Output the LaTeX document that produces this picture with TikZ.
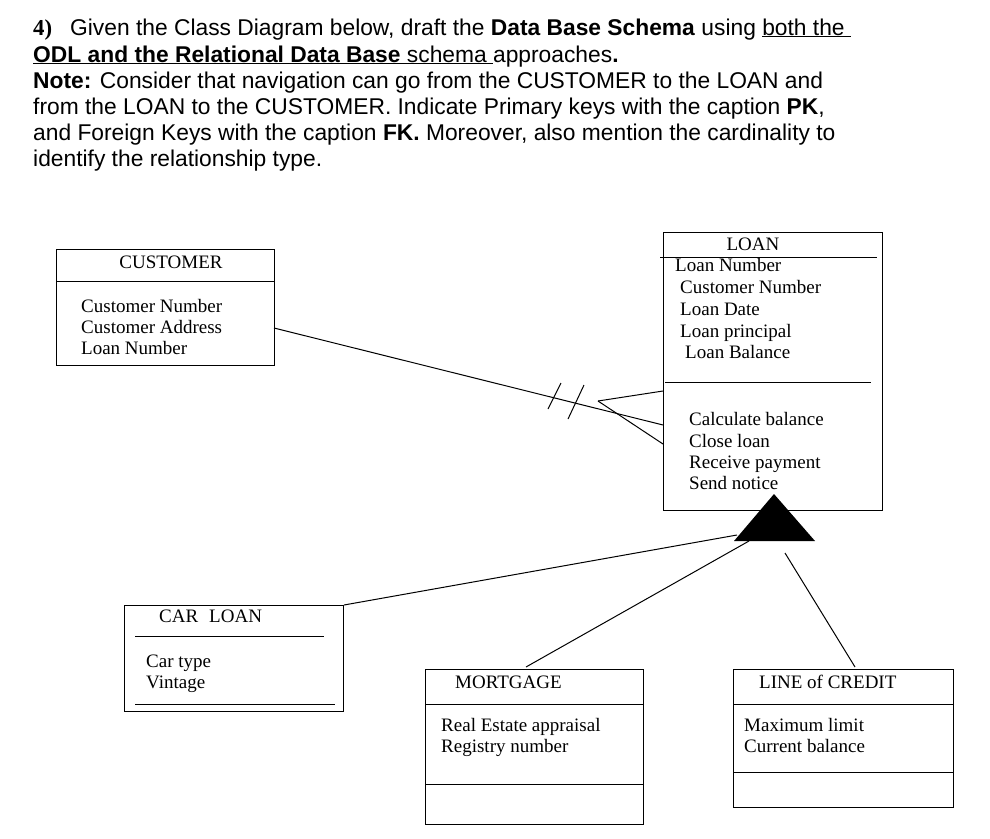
\documentclass[tikz,border=0pt]{standalone}
\usepackage{fontspec}
\setmainfont{Liberation Sans}
\newfontfamily\tnr{Liberation Serif}
\begin{document}
\begin{tikzpicture}[x=1pt,y=-1pt,
  box/.style={draw, line width=1pt, inner sep=0pt, anchor=north west},
  txt/.style={anchor=base west, inner sep=0pt, font=\tnr\fontsize{19}{22}\selectfont},
  ttl/.style={anchor=base, inner sep=0pt, font=\tnr\fontsize{19}{22}\selectfont},
  hd/.style={anchor=base west, inner sep=0pt, font=\fontsize{22.8}{26}\selectfont},
  ln/.style={line width=1pt}]
\useasboundingbox (0,0) rectangle (990,838);
% header
\node[hd] (h1) at (33,35) {{\tnr\bfseries 4)}\hspace{18pt}Given the Class Diagram below, draft the \textbf{Data Base Schema} using \underline{both the\ }};
\node[hd] (h2) at (33,62) {\underline{\textbf{ODL and the Relational Data Base} schema\ }approaches\textbf{.}};
\node[hd] (h3) at (33,88) {\textbf{Note:} Consider that navigation can go from the CUSTOMER to the LOAN and};
\node[hd] (h4) at (33,114) {from the LOAN to the CUSTOMER. Indicate Primary keys with the caption \textbf{PK},};
\node[hd] (h5) at (33,140) {and Foreign Keys with the caption \textbf{FK.} Moreover, also mention the cardinality to};
\node[hd] (h6) at (33,166) {identify the relationship type.};
% CUSTOMER
\node[box, minimum width=218pt, minimum height=116pt] (cust) at (56,249) {};
\draw[ln] (56,281) -- (274,281);
\node[ttl] (custT) at (171,268) {CUSTOMER};
\node[txt] (c1) at (81,312) {Customer Number};
\node[txt] (c2) at (81,333) {Customer Address};
\node[txt] (c3) at (81,354) {Loan Number};
% LOAN
\node[box, minimum width=219pt, minimum height=278pt] (loan) at (663,232) {};
\draw[ln] (660,257) -- (877,257);
\draw[ln] (665,382) -- (871,382);
\node[ttl] (loanT) at (753,250) {LOAN};
\node[txt] (l1) at (675,271) {Loan Number};
\node[txt] (l2) at (680,293) {Customer Number};
\node[txt] (l3) at (680,315) {Loan Date};
\node[txt] (l4) at (680,337) {Loan principal};
\node[txt] (l5) at (685,358) {Loan Balance};
\node[txt] (m1) at (689,425) {Calculate balance};
\node[txt] (m2) at (689,447) {Close loan};
\node[txt] (m3) at (689,468) {Receive payment};
\node[txt] (m4) at (689,489) {Send notice};
% CAR LOAN
\node[box, minimum width=219pt, minimum height=106pt] (car) at (124,605) {};
\draw[ln] (135,636) -- (324,636);
\draw[ln] (135,704) -- (335,704);
\node[txt] (carT) at (159,622) {CAR\hspace{11pt}LOAN};
\node[txt] (car1) at (146,667) {Car type};
\node[txt] (car2) at (146,688) {Vintage};
% MORTGAGE
\node[box, minimum width=218pt, minimum height=155pt] (mort) at (425,669) {};
\draw[ln] (425,704) -- (643,704);
\draw[ln] (425,784) -- (643,784);
\node[txt] (mortT) at (455,688) {MORTGAGE};
\node[txt] (mo1) at (441,731) {Real Estate appraisal};
\node[txt] (mo2) at (441,752) {Registry number};
% LINE of CREDIT
\node[box, minimum width=220pt, minimum height=138pt] (loc) at (733,669) {};
\draw[ln] (733,704) -- (953,704);
\draw[ln] (733,772) -- (953,772);
\node[txt] (locT) at (759,688) {LINE of CREDIT};
\node[txt] (lc1) at (744,731) {Maximum limit};
\node[txt] (lc2) at (744,752) {Current balance};
% association customer - loan
\coordinate (a1) at (274,328);
\coordinate (a2) at (663,425);
\coordinate (cf) at (598,401);
\coordinate (cfu) at (663,391);
\coordinate (cfl) at (663,444);
\draw[ln] (a1) -- (a2);
\draw[ln] (cf) -- (cfu);
\draw[ln] (cf) -- (cfl);
\draw[ln] (561,383) -- (548,409);
\draw[ln] (584,385) -- (568,419);
% generalization
\coordinate (tA) at (774,494);
\coordinate (tL) at (734,541);
\coordinate (tR) at (815,541);
\fill (tA) -- (tL) -- (tR) -- cycle;
\coordinate (g1) at (737,535);
\coordinate (g2) at (749,541);
\coordinate (g3) at (785,553);
\draw[ln] (car.north east) -- (g1);
\draw[ln] (526,667) -- (g2);
\draw[ln] (855,667) -- (g3);
\end{tikzpicture}
\end{document}
